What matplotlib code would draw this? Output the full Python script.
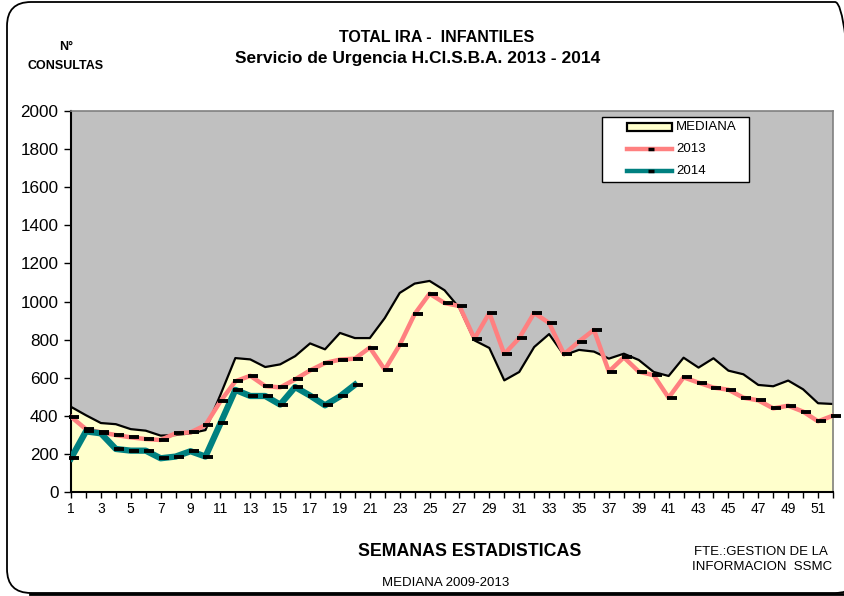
import numpy as np
import matplotlib
matplotlib.use("Agg")
import matplotlib.pyplot as plt
from matplotlib.patches import Rectangle, FancyBboxPatch
from matplotlib.lines import Line2D
from matplotlib import transforms

plt.rcParams['font.family'] = ['Liberation Sans', 'DejaVu Sans']

# semanas estadisticas
semanas = list(range(1, 53))

# mediana 2009-2013
mediana = [447, 403, 362, 356, 330, 322, 296, 299, 308, 325,
           510, 703, 696, 656, 670, 713, 780, 749, 835, 808,
           808, 913, 1045, 1094, 1108, 1059, 966, 796, 756, 586,
           630, 761, 829, 718, 746, 737, 700, 726, 693, 630,
           609, 705, 653, 702, 637, 618, 562, 555, 585, 539,
           466, 462]

# consultas 2013
v2013 = [395, 330, 313, 299, 287, 278, 273, 308, 313, 351,
         476, 581, 610, 556, 549, 591, 638, 677, 695, 700,
         758, 642, 772, 934, 1041, 992, 976, 805, 940, 724,
         808, 940, 887, 723, 790, 851, 632, 707, 632, 613,
         495, 602, 574, 548, 537, 495, 481, 439, 453, 422,
         371, 401]

# consultas 2014
sem2014 = list(range(1, 21))
v2014 = [177, 318, 308, 226, 217, 217, 177, 186, 214, 186,
         360, 536, 504, 504, 459, 551, 506, 455, 502, 563]

series_leg = ['MEDIANA', '2013', '2014']
col_med, col_13, col_14 = '#FFFFCC', '#FF8080', '#008080'

W, H = 845, 596
fig = plt.figure(figsize=(W / 100, H / 100), dpi=100)
ax = fig.add_axes([71 / W, 1 - 492 / H, (833 - 71) / W, (492 - 111) / H])
ax.set_facecolor('#C0C0C0')

ax.fill_between(semanas, 0, mediana, color=col_med, zorder=1)
ax.plot(semanas, mediana, color='black', lw=1.6, zorder=2)
ax.plot(semanas, v2013, color=col_13, lw=3.2, zorder=3)
ax.plot(sem2014, v2014, color=col_14, lw=4.5, zorder=4)

# marcadores (corridos un poco a la derecha, como en el original)
off = transforms.offset_copy(ax.transData, fig=fig, x=3, y=0, units='dots')
ax.plot(semanas, v2013, ls='none', marker='_', ms=6.5, mew=2.8,
        color='black', transform=off, zorder=5, clip_on=False)
ax.plot(sem2014, v2014, ls='none', marker='_', ms=6.5, mew=2.8,
        color='black', transform=off, zorder=6, clip_on=False)

ax.set_xlim(1, 52)
ax.set_ylim(0, 2000)
ax.set_yticks(range(0, 2001, 200))
ax.set_xticks(semanas)
ax.set_xticklabels([str(s) if s % 2 == 1 else '' for s in semanas])
ax.tick_params(axis='y', direction='out', length=5, width=1, labelsize=12.3, pad=4)
ax.tick_params(axis='x', direction='out', length=4, width=1, labelsize=10, pad=3)

for s in ['left', 'bottom']:
    ax.spines[s].set_color('black')
    ax.spines[s].set_linewidth(1.5)
for s in ['top', 'right']:
    ax.spines[s].set_color('#808080')
    ax.spines[s].set_linewidth(1.2)

# leyenda dibujada a mano (coordenadas en pixeles)
ident = transforms.IdentityTransform()
fig.add_artist(Rectangle((602, H - 182), 147, 65, transform=ident,
                         facecolor='white', edgecolor='black', lw=1))
rows = [127, 149, 171]
fig.add_artist(Rectangle((627, H - rows[0] - 4), 45, 8, transform=ident,
                         facecolor=col_med, edgecolor='black', lw=1.6))
for y, c in zip(rows[1:], [col_13, col_14]):
    fig.add_artist(Line2D([627, 672], [H - y, H - y], color=c, lw=3.2,
                          transform=ident))
    fig.add_artist(Line2D([651], [H - y], marker='_', ms=4, mew=2.5,
                          color='black', transform=ident))
for y, lab in zip(rows, series_leg):
    fig.text(676 / W, 1 - y / H, lab, ha='left', va='center', fontsize=9.5)

def ft(x, y, s, **kw):
    fig.text(x / W, 1 - y / H, s, **kw)

ft(437, 38, 'TOTAL IRA -  INFANTILES', ha='center', va='center',
   fontsize=11.5, fontweight='bold')
ft(418, 59, 'Servicio de Urgencia H.Cl.S.B.A. 2013 - 2014', ha='center',
   va='center', fontsize=12.5, fontweight='bold')
ft(66, 47, 'N°', ha='center', va='center', fontsize=9, fontweight='bold')
ft(66, 66, 'CONSULTAS', ha='center', va='center', fontsize=9, fontweight='bold')
ft(470, 551, 'SEMANAS ESTADISTICAS', ha='center', va='center',
   fontsize=12.8, fontweight='bold')
ft(761, 552, 'FTE.:GESTION DE LA', ha='center', va='center', fontsize=9.5)
ft(762, 567, 'INFORMACION  SSMC', ha='center', va='center', fontsize=9.5)
ft(446, 583, 'MEDIANA 2009-2013', ha='center', va='center', fontsize=9.5)

border = FancyBboxPatch((7, 3), 852, 591, boxstyle='round,pad=0,rounding_size=24',
                        transform=ident, facecolor='none', edgecolor='black', lw=1.3)
fig.add_artist(border)
fig.add_artist(Line2D([30, 845], [2.5, 2.5], color='black', lw=2, transform=ident))

fig.savefig('out.png', dpi=100)
